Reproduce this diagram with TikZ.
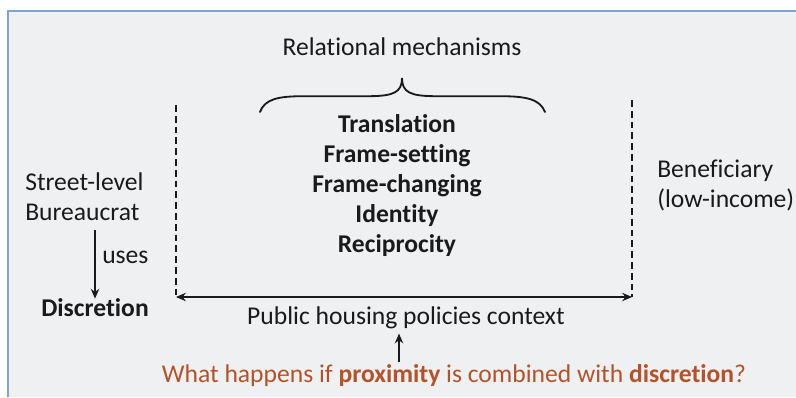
\documentclass[tikz,border=0pt]{standalone}
\usepackage{fontspec}
\setmainfont{Carlito}[Ligatures={NoCommon,NoRare},Contextuals=NoAlternate]
\usetikzlibrary{arrows.meta}
\definecolor{Slide}{HTML}{EEF0F2}
\definecolor{Rim}{HTML}{7FA7CC}
\definecolor{Ink}{HTML}{1A1A1A}
\definecolor{Rust}{HTML}{B4532A}

\begin{document}
\begin{tikzpicture}[
  txt/.style={font=\fontsize{18.2}{21.3}\selectfont,text=Ink,inner sep=0pt},
  boldtxt/.style={txt,font=\fontsize{18.2}{21.3}\selectfont\bfseries},
  bound/.style={draw=Ink,line width=1.4pt,dash pattern=on 0.17cm off 0.1cm},
  arr/.style={draw=Ink,line width=0.9pt,-{Stealth[length=7pt,width=6pt]}},
  brace/.style={draw=Ink,line width=1.3pt,line cap=round}
]
\useasboundingbox (0,0) rectangle (19.9,9.925);
\fill[white] (0,0) rectangle (19.9,9.925);
\fill[Slide] (0.2,0) rectangle (19.9,9.65);
\draw[Rim,line width=1.2pt] (0.2,0) -- (0.2,9.65) -- (19.9,9.65);
% heading and curly brace
\node[txt] (rel) at (10.05,8.75) {Relational mechanisms};
\draw[brace] (6.5,7.125) .. controls (6.62,7.45) and (6.95,7.52) .. (7.6,7.52) -- (9.2,7.52)
  .. controls (9.85,7.52) and (10.05,7.62) .. (10.05,7.975)
  .. controls (10.05,7.62) and (10.25,7.52) .. (10.9,7.52) -- (12.5,7.52)
  .. controls (13.15,7.52) and (13.5,7.45) .. (13.625,7.125);
\node[boldtxt,align=center] (mech) at (9.925,5.29)
  {Translation\\Frame-setting\\Frame-changing\\Identity\\Reciprocity};
% the two actors
\node[txt,align=left,anchor=west] (sbl) at (0.625,5.01) {Street-level\\Bureaucrat};
\node[boldtxt] (disc) at (2.375,2.225) {Discretion};
\draw[arr] (2.375,4.175) -- (disc.north -| 2.375,0);
\node[txt,anchor=west] (uses) at (2.55,3.5) {uses};
\node[txt,align=left,anchor=west] (ben) at (16.425,5.29) {Beneficiary\\(low-income)};
% context boundaries
\coordinate (lt) at (4.4,7.3);
\coordinate (lb) at (4.4,2.5);
\coordinate (rt) at (15.8,7.425);
\coordinate (rb) at (15.8,2.5);
\draw[bound] (lt) -- (lb);
\draw[bound] (rt) -- (rb);
\draw[draw=Ink,line width=0.9pt,{Stealth[length=7pt,width=6pt]}-{Stealth[length=7pt,width=6pt]}] (lb) -- (rb);
\node[txt] (ctx) at (10.15,1.975) {Public housing policies context};
% question
\node[txt,text=Rust] (q) at (11.35,0.525) {What happens if \textbf{proximity} is combined with \textbf{discretion}?};
\coordinate (up) at (9.975,0);
\draw[arr] ([yshift=2pt]q.north -| up) -- ([yshift=-3pt]ctx.south -| up);
\end{tikzpicture}
\end{document}
